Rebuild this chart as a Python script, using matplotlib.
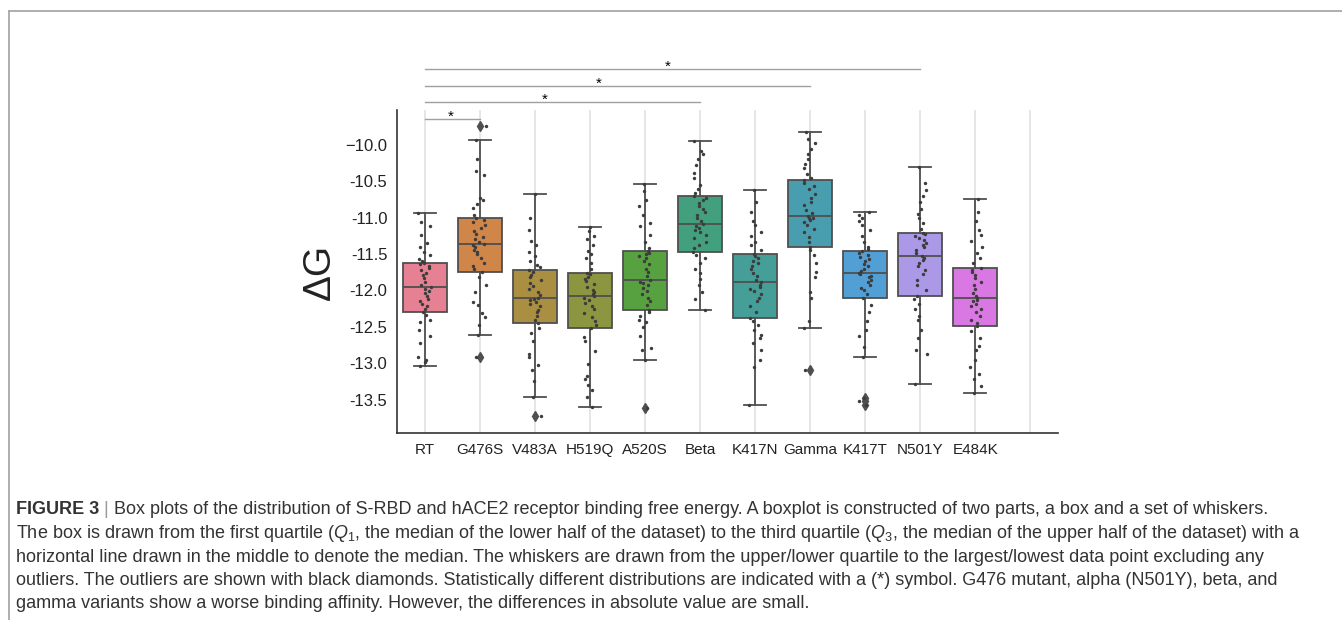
import numpy as np
import matplotlib.pyplot as plt
import seaborn as sns
from matplotlib.lines import Line2D

plt.rcParams['font.family'] = ['Liberation Sans', 'DejaVu Sans']
plt.rcParams['mathtext.fontset'] = 'custom'
plt.rcParams['mathtext.rm'] = 'Liberation Sans'
plt.rcParams['mathtext.it'] = 'Liberation Sans:italic'

groups = ['RT', 'G476S', 'V483A', 'H519Q', 'A520S', 'Beta',
          'K417N', 'Gamma', 'K417T', 'N501Y', 'E484K']

# binding free energy per system
rt = [-13.04, -12.98, -12.96, -12.92, -12.72, -12.62, -12.55, -12.44, -12.40, -12.34,
      -12.29, -12.26, -12.22, -12.18, -12.15, -12.12, -12.08, -12.04, -12.01, -11.98,
      -11.95, -11.92, -11.88, -11.83, -11.79, -11.76, -11.72, -11.69, -11.66, -11.64,
      -11.63, -11.60, -11.57, -11.52, -11.47, -11.40, -11.35, -11.24, -11.12, -11.06,
      -10.94]
g476s = [-12.91, -12.61, -12.48, -12.36, -12.31, -12.20, -12.16, -12.02, -11.93, -11.82,
         -11.75, -11.70, -11.66, -11.62, -11.55, -11.50, -11.47, -11.44, -11.41, -11.38,
         -11.36, -11.33, -11.30, -11.27, -11.22, -11.18, -11.14, -11.10, -11.06, -11.03,
         -11.01, -10.96, -10.87, -10.81, -10.76, -10.73, -10.42, -10.36, -10.20, -9.93,
         -9.74]
v483a = [-13.72, -13.46, -13.25, -13.10, -13.03, -12.92, -12.88, -12.70, -12.58, -12.52,
         -12.45, -12.40, -12.35, -12.30, -12.27, -12.22, -12.19, -12.16, -12.13, -12.12,
         -12.10, -12.06, -12.02, -11.98, -11.94, -11.90, -11.86, -11.82, -11.79, -11.75,
         -11.72, -11.68, -11.65, -11.60, -11.53, -11.47, -11.38, -11.32, -11.17, -11.00,
         -10.67]
h519q = [-13.60, -13.47, -13.37, -13.30, -13.22, -13.18, -13.01, -12.83, -12.70, -12.64,
         -12.52, -12.48, -12.42, -12.36, -12.31, -12.26, -12.21, -12.17, -12.13, -12.10,
         -12.08, -12.05, -12.02, -11.99, -11.95, -11.91, -11.87, -11.84, -11.81, -11.78,
         -11.76, -11.70, -11.63, -11.56, -11.50, -11.46, -11.37, -11.30, -11.25, -11.18,
         -11.13]
a520s = [-13.62, -12.95, -12.82, -12.79, -12.62, -12.50, -12.44, -12.40, -12.35, -12.30,
         -12.27, -12.20, -12.15, -12.10, -12.05, -12.01, -11.97, -11.93, -11.90, -11.88,
         -11.86, -11.80, -11.75, -11.70, -11.64, -11.60, -11.56, -11.53, -11.50, -11.48,
         -11.46, -11.42, -11.34, -11.24, -11.12, -11.08, -10.96, -10.84, -10.76, -10.63,
         -10.54]
beta = [-12.27, -12.12, -12.02, -11.93, -11.84, -11.76, -11.70, -11.62, -11.56, -11.51,
        -11.47, -11.42, -11.38, -11.33, -11.28, -11.24, -11.20, -11.17, -11.14, -11.11,
        -11.09, -11.05, -11.01, -10.97, -10.92, -10.88, -10.84, -10.80, -10.76, -10.73,
        -10.70, -10.66, -10.60, -10.55, -10.45, -10.38, -10.28, -10.20, -10.12, -10.08,
        -9.95]
k417n = [-13.58, -13.05, -12.96, -12.82, -12.72, -12.66, -12.61, -12.54, -12.48, -12.42,
         -12.38, -12.30, -12.22, -12.15, -12.10, -12.05, -12.01, -11.98, -11.95, -11.92,
         -11.89, -11.85, -11.80, -11.76, -11.71, -11.67, -11.63, -11.59, -11.56, -11.53,
         -11.50, -11.45, -11.38, -11.33, -11.25, -11.20, -11.10, -11.04, -10.92, -10.78,
         -10.62]
gamma = [-13.10, -12.51, -12.42, -12.10, -12.02, -11.82, -11.75, -11.62, -11.52, -11.45,
         -11.40, -11.33, -11.26, -11.20, -11.15, -11.10, -11.06, -11.03, -11.01, -11.00,
         -10.98, -10.94, -10.89, -10.83, -10.78, -10.73, -10.67, -10.61, -10.56, -10.52,
         -10.48, -10.45, -10.40, -10.32, -10.26, -10.20, -10.13, -10.06, -9.98, -9.92,
         -9.82]
k417t = [-13.58, -13.52, -13.48, -12.92, -12.78, -12.62, -12.55, -12.42, -12.30, -12.20,
         -12.11, -12.05, -12.00, -11.96, -11.92, -11.88, -11.85, -11.82, -11.80, -11.78,
         -11.76, -11.73, -11.70, -11.67, -11.64, -11.60, -11.57, -11.54, -11.51, -11.48,
         -11.46, -11.43, -11.40, -11.33, -11.25, -11.17, -11.10, -11.05, -11.01, -10.96,
         -10.92]
n501y = [-13.29, -12.88, -12.82, -12.66, -12.55, -12.40, -12.35, -12.26, -12.18, -12.12,
         -12.07, -12.00, -11.93, -11.85, -11.78, -11.72, -11.66, -11.62, -11.58, -11.55,
         -11.53, -11.49, -11.45, -11.41, -11.38, -11.35, -11.31, -11.28, -11.25, -11.23,
         -11.21, -11.15, -11.08, -11.00, -10.95, -10.88, -10.79, -10.70, -10.62, -10.52,
         -10.31]
e484k = [-13.41, -13.32, -13.22, -13.15, -13.05, -12.95, -12.82, -12.76, -12.66, -12.56,
         -12.49, -12.45, -12.40, -12.35, -12.30, -12.26, -12.22, -12.18, -12.15, -12.13,
         -12.11, -12.07, -12.03, -11.98, -11.93, -11.88, -11.83, -11.79, -11.75, -11.72,
         -11.69, -11.62, -11.55, -11.48, -11.40, -11.32, -11.24, -11.17, -11.05, -10.92,
         -10.74]
data = [rt, g476s, v483a, h519q, a520s, beta, k417n, gamma, k417t, n501y, e484k]

# significant pairs (vs RT)
sig_pairs = [(0, 1), (0, 5), (0, 7), (0, 9)]

yticks = [-10.0, -10.5, -11.0, -11.5, -12.0, -12.5, -13.0, -13.5]
ytick_labels = ['\u221210.0', '-10.5', '-11.0', '-11.5', '-12.0', '-12.5', '-13.0', '-13.5']

caption = [
    'The box is drawn from the first quartile ($Q_1$, the median of the lower half of the dataset) '
    'to the third quartile ($Q_3$, the median of the upper half of the dataset) with a',
    'horizontal line drawn in the middle to denote the median. The whiskers are drawn from the '
    'upper/lower quartile to the largest/lowest data point excluding any',
    'outliers. The outliers are shown with black diamonds. Statistically different distributions '
    'are indicated with a (*) symbol. G476 mutant, alpha (N501Y), beta, and',
    'gamma variants show a worse binding affinity. However, the differences in absolute value are small.',
]

W, H = 1342, 620
fig = plt.figure(figsize=(W / 100, H / 100), dpi=100)
ax = fig.add_axes([397 / W, 1 - 433 / H, 661 / W, 323 / H])

# 12-colour husl palette (last slot unused), desaturated like seaborn boxes
pal = sns.color_palette('husl', 12)[:len(groups)]
face = [sns.desaturate(c, 0.75) for c in pal]
edge = '#4f4f4f'

bp = ax.boxplot(data, positions=np.arange(len(groups)), widths=0.8, patch_artist=True,
                boxprops=dict(edgecolor=edge, linewidth=1.3),
                medianprops=dict(color=edge, linewidth=1.3),
                whiskerprops=dict(color=edge, linewidth=1.3),
                capprops=dict(color=edge, linewidth=1.3),
                flierprops=dict(marker='d', markerfacecolor=edge, markeredgecolor=edge,
                                markersize=5),
                zorder=2)
for patch, c in zip(bp['boxes'], face):
    patch.set_facecolor(c)

# strip points
rng = np.random.default_rng(11)
for i, vals in enumerate(data):
    xs = i + rng.uniform(-0.12, 0.12, len(vals))
    ax.scatter(xs, vals, s=6, color='#3c3c3c', linewidths=0, zorder=3)

ax.set_xlim(-0.5, 11.5)
ax.set_ylim(-13.96, -9.52)
ax.set_xticks(np.arange(12))
ax.set_xticklabels(groups + [''], fontsize=11)
ax.set_yticks(yticks)
ax.set_yticklabels(ytick_labels, fontsize=12)
ax.tick_params(length=0, pad=7, colors='#222222')
ax.xaxis.grid(True, color='#e2e2e2', linewidth=1.2)
ax.set_axisbelow(True)
for s in ['top', 'right']:
    ax.spines[s].set_visible(False)
for s in ['left', 'bottom']:
    ax.spines[s].set_color('#333333')
    ax.spines[s].set_linewidth(1.2)

ax.set_ylabel('\u0394G', fontsize=28, color='#222222')
ax.yaxis.set_label_coords(-0.09, 0.5)

# significance brackets
levels = [-9.64, -9.41, -9.19, -8.95]
star_x = [0.47, 2.19, 3.17, 4.41]
for (a, b), lev, sx in zip(sig_pairs, levels, star_x):
    ax.plot([a, b], [lev, lev], color='#a0a0a0', linewidth=1, clip_on=False)
    ax.text(sx, lev - 0.03, '*', ha='center', va='baseline', fontsize=11, clip_on=False)

# frame lines of the figure panel
fig.add_artist(Line2D([9 / W, 1], [1 - 10.5 / H] * 2, color='#a8a8a8', linewidth=1.3))
fig.add_artist(Line2D([9 / W] * 2, [0, 1 - 10.5 / H], color='#a8a8a8', linewidth=1.3))

# caption
fs = 13
cap_kw = dict(fontsize=fs, color='#333333', va='baseline')
x0 = 16 / W
t = fig.text(x0, 1 - 514 / H, 'FIGURE 3', fontweight='bold', **cap_kw)
t = ax.annotate(' | ', xy=(1, 0), xycoords=t, ha='left', va='bottom', fontsize=fs, color='#999999')
ax.annotate('Box plots of the distribution of S-RBD and hACE2 receptor binding free energy. '
            'A boxplot is constructed of two parts, a box and a set of whiskers.',
            xy=(1, 0), xycoords=t, ha='left', va='bottom', fontsize=fs, color='#333333')
for k, line in enumerate(caption):
    fig.text(x0, 1 - (538 + 23.5 * k) / H, line, **cap_kw)

fig.savefig('out.png', dpi=100)
